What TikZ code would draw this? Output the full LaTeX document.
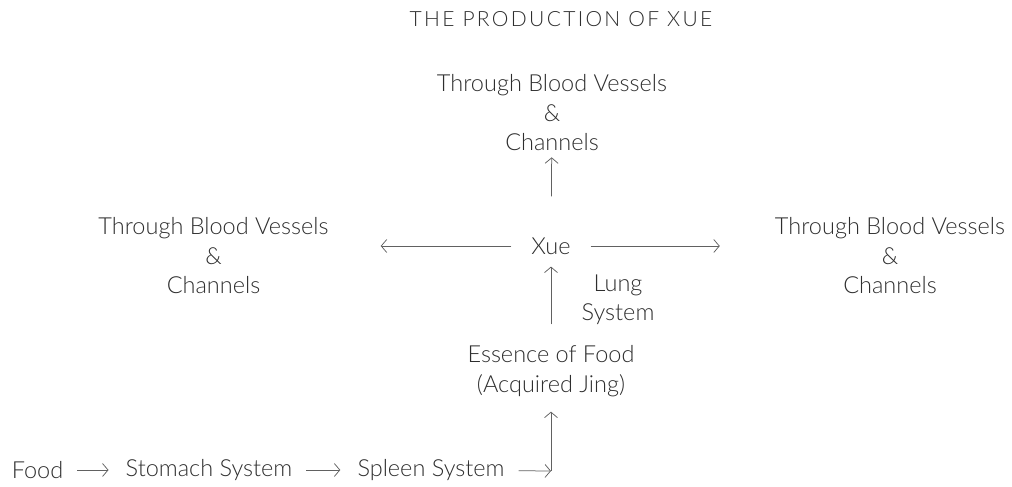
\documentclass[tikz,border=0pt]{standalone}
\usepackage{fontspec}
\setmainfont{Lato Light}
\usetikzlibrary{arrows.meta,positioning}

\begin{document}
\begin{tikzpicture}[x=1pt, y=-1pt,
    txt/.style={align=center, font=\fontsize{23.5}{29.5}\selectfont, text=black!82, inner sep=2pt},
    arr/.style={-{Straight Barb[length=5.5pt, width=13pt]}, draw=black!62, line width=0.75pt},
    flow/.style={arr, shorten <=12pt, shorten >=15pt}
]
\useasboundingbox (0,0) rectangle (1012,487);
\node[txt, font=\fontsize{21}{22}\addfontfeatures{LetterSpace=11}\selectfont] (title) at (561,19) {THE PRODUCTION OF XUE};

\node[txt] (top) at (552,113) {Through Blood Vessels\\\&\\Channels};
\node[txt] (left) at (213.5,256) {Through Blood Vessels\\\&\\Channels};
\node[txt] (right) at (890,256) {Through Blood Vessels\\\&\\Channels};
\node[txt] (xue) at (551,246) {Xue};
\node[txt] (lung) at (618,300) {Lung\\System};
\node[txt] (ess) at (551,371) {Essence of Food\\(Acquired Jing)};

\node[txt] (food) at (37.5,470) {Food};
\node[txt] (stom) at (209,470) {Stomach System};
\node[txt] (spl) at (431,470) {Spleen System};
\coordinate (turn) at (551,471);

% from Xue outwards
\draw[arr, shorten <=39pt, shorten >=4pt] (xue) -- (top);
\draw[arr, shorten <=18pt, shorten >=50pt] (xue.west) -- (xue.west -| left.east);
\draw[arr, shorten <=18pt, shorten >=53pt] (xue.east) -- (xue.east -| right.west);
\draw[arr, shorten <=19pt, shorten >=10pt] (ess) -- (xue);
% bottom row
\draw[flow] (food) -- (stom);
\draw[flow] (stom) -- (spl);
\draw[flow, shorten >=0pt] (spl) -- (turn);
\draw[arr, shorten >=13pt] (turn) -- (ess);
\end{tikzpicture}
\end{document}
